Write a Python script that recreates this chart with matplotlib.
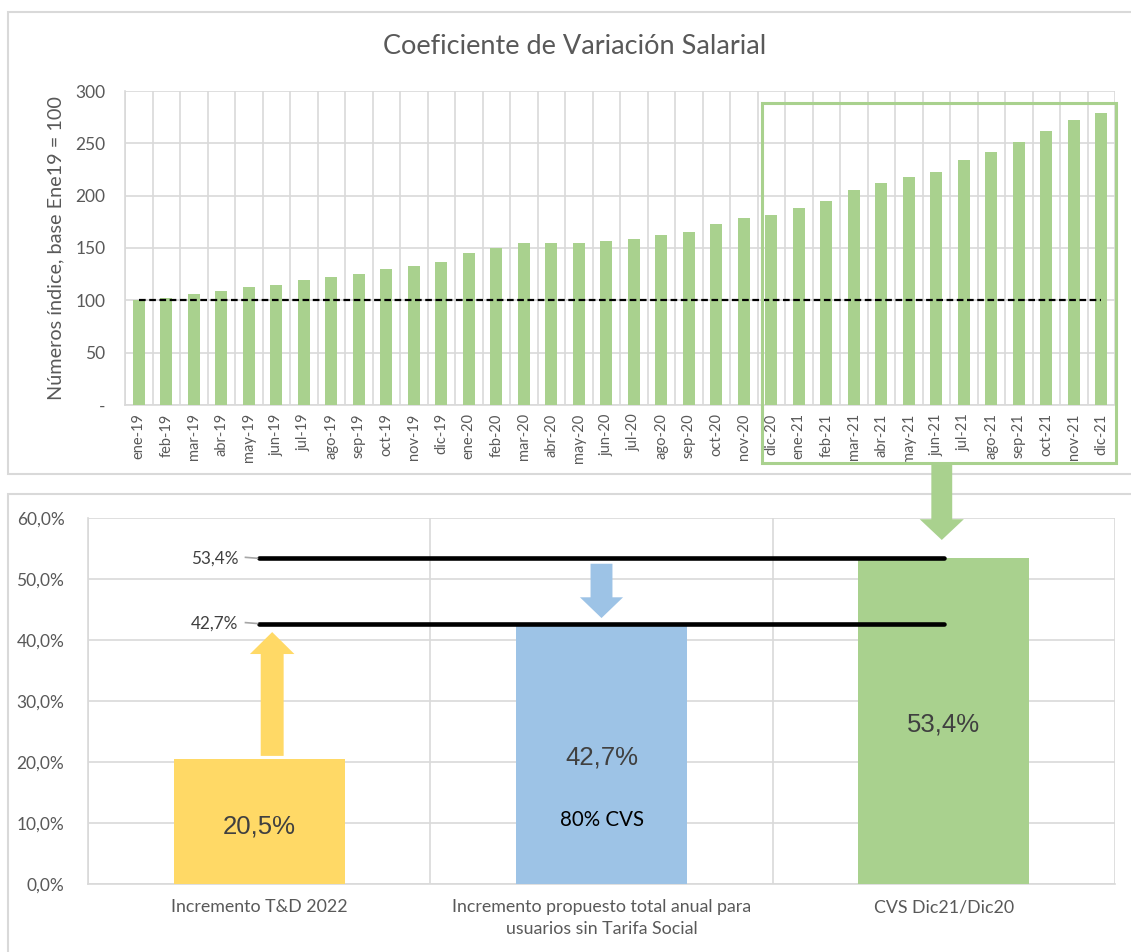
import numpy as np
import matplotlib.pyplot as plt
from matplotlib.patches import Rectangle, Polygon

plt.rcParams['font.family'] = ['Lato', 'DejaVu Sans']

# Monthly salary index (base ene-19 = 100)
months = ['ene-19', 'feb-19', 'mar-19', 'abr-19', 'may-19', 'jun-19', 'jul-19', 'ago-19',
          'sep-19', 'oct-19', 'nov-19', 'dic-19', 'ene-20', 'feb-20', 'mar-20', 'abr-20',
          'may-20', 'jun-20', 'jul-20', 'ago-20', 'sep-20', 'oct-20', 'nov-20', 'dic-20',
          'ene-21', 'feb-21', 'mar-21', 'abr-21', 'may-21', 'jun-21', 'jul-21', 'ago-21',
          'sep-21', 'oct-21', 'nov-21', 'dic-21']
index_vals = [100.0, 101.8, 106.2, 109.1, 112.3, 114.2, 119.2, 122.4,
              125.6, 129.7, 132.9, 136.7, 144.9, 150.0, 155.1, 155.1,
              155.1, 156.4, 158.6, 162.4, 165.6, 172.5, 178.9, 181.7,
              188.1, 195.1, 205.5, 212.5, 217.6, 222.6, 234.1, 241.4,
              251.5, 261.7, 272.1, 278.8]
base_line = [100] * len(months)

# Comparison of increments (%)
cats = ['Incremento T&D 2022',
        'Incremento propuesto total anual para\nusuarios sin Tarifa Social',
        'CVS Dic21/Dic20']
pct_vals = [20.5, 42.7, 53.4]
ref_levels = [53.4, 42.7]

green = '#A9D18E'
yellow = '#FFD966'
blue = '#9DC3E6'
txt = '#595959'
grid = '#D9D9D9'

W, H = 1131, 952
fig = plt.figure(figsize=(W / 100, H / 100), dpi=100)


def fax(l, t, r, b):
    return [l / W, 1 - b / H, (r - l) / W, (b - t) / H]


def varrow(ax, x, y0, y1, w, hw, hl, color):
    s = 1 if y1 > y0 else -1
    yb = y1 - s * hl
    pts = [(x - w / 2, y0), (x + w / 2, y0), (x + w / 2, yb), (x + hw / 2, yb),
           (x, y1), (x - hw / 2, yb), (x - w / 2, yb)]
    ax.add_patch(Polygon(pts, closed=True, fc=color, ec='none', clip_on=False, zorder=6))


# background panels
bg = fig.add_axes([0, 0, 1, 1], zorder=-1)
bg.set_xlim(0, W)
bg.set_ylim(H, 0)
bg.axis('off')
bg.add_patch(Rectangle((8, 12), W, 462, fc='white', ec=grid, lw=1.5))
bg.add_patch(Rectangle((8, 494), W, 470, fc='white', ec=grid, lw=1.5))

# ---- top chart ----
ax1 = fig.add_axes(fax(125, 91, 1115, 405))
ax1.set_facecolor('none')
x = np.arange(len(months))
ax1.bar(x, index_vals, width=0.43, color=green, zorder=3)
ax1.plot(x, base_line, color='black', lw=1.6, ls=(0, (3, 1.6)), zorder=4)
ax1.set_xlim(-0.5, len(months) - 0.5)
ax1.set_ylim(0, 300)
ax1.set_yticks(range(0, 301, 50))
ax1.set_yticklabels(['-'] + [str(v) for v in range(50, 301, 50)])
ax1.set_xticks(x)
ax1.set_xticklabels(months, rotation=90, fontsize=10.5, color=txt)
ax1.set_xticks(np.arange(-0.5, len(months)), minor=True)
ax1.grid(axis='y', which='major', color=grid, lw=1.2, zorder=0)
ax1.grid(axis='x', which='minor', color=grid, lw=1.2, zorder=0)
ax1.tick_params(axis='both', which='both', length=0)
ax1.tick_params(axis='y', labelsize=12.5, labelcolor=txt, pad=14)
ax1.tick_params(axis='x', pad=6)
for s in ['top', 'right']:
    ax1.spines[s].set_visible(False)
for s in ['left', 'bottom']:
    ax1.spines[s].set_color(grid)
    ax1.spines[s].set_linewidth(1.2)
ax1.set_ylabel('Números índice, base Ene19 = 100', fontsize=14.3, color=txt, labelpad=8)
fig.text(575 / W, 1 - 47 / H, 'Coeficiente de Variación Salarial', ha='center', va='center',
         fontsize=19.5, color=txt)
# highlight box dic-20 .. dic-21
ax1.add_patch(Rectangle((22.66, -55.4), 35.54 - 22.66, 288.5 + 55.4, fill=False,
                        ec=green, lw=2.2, clip_on=False, zorder=5))

# ---- bottom chart ----
ax2 = fig.add_axes(fax(88, 518, 1115, 884))
ax2.set_facecolor('none')
xc = np.arange(len(cats))
ax2.bar(xc, pct_vals, width=0.5, color=[yellow, blue, green], zorder=3)
ax2.set_xlim(-0.5, len(cats) - 0.5)
ax2.set_ylim(0, 60)
ax2.set_yticks(range(0, 61, 10))
ax2.set_yticklabels([f'{v},0%' for v in range(0, 61, 10)])
ax2.set_xticks(xc)
ax2.set_xticklabels(cats, fontsize=12.8, color=txt, linespacing=1.45)
ax2.set_xticks(np.arange(-0.5, len(cats)), minor=True)
ax2.grid(axis='y', which='major', color=grid, lw=1.2, zorder=0)
ax2.grid(axis='x', which='minor', color=grid, lw=1.2, zorder=0)
ax2.tick_params(axis='both', which='both', length=0)
ax2.tick_params(axis='y', labelsize=12.5, labelcolor=txt, pad=17)
ax2.tick_params(axis='x', pad=11)
for s in ['top', 'right']:
    ax2.spines[s].set_visible(False)
for s in ['left', 'bottom']:
    ax2.spines[s].set_color(grid)
    ax2.spines[s].set_linewidth(1.2)

for lvl in ref_levels:
    ax2.plot([xc[0], xc[-1]], [lvl, lvl], color='black', lw=3.3,
             solid_capstyle='round', zorder=5)
    ax2.plot([-0.04, -0.005], [lvl + 0.15, lvl], color='#A6A6A6', lw=1.2, zorder=5)
    ax2.text(-0.06, lvl, f'{lvl:.1f}%'.replace('.', ','), ha='right', va='center',
             fontsize=12.3, color='#404040', zorder=6)

bar_lbl_y = [9.5, 20.8, 26.2]
for xi, v, yl in zip(xc, pct_vals, bar_lbl_y):
    ax2.text(xi, yl, f'{v:.1f}%'.replace('.', ','), ha='center', va='center',
             fontsize=18.5, color='#404040', family='Liberation Sans', zorder=6)
ax2.text(xc[1], 10.5, '80% CVS', ha='center', va='center', fontsize=14.8,
         color='black', zorder=6)

varrow(ax2, 0.038, 21.0, 41.3, 0.067, 0.13, 3.6, yellow)
varrow(ax2, 1.0, 52.5, 43.6, 0.064, 0.126, 3.4, blue)
varrow(ax2, 1.994, 69.0, 56.4, 0.061, 0.129, 3.4, green)

fig.savefig('out.png', dpi=100)
plt.close('all')
